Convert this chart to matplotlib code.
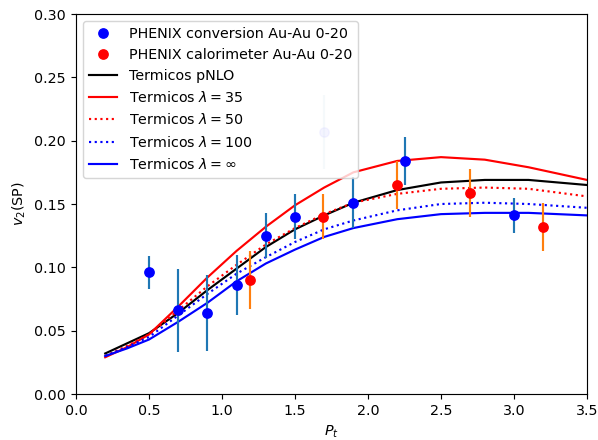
import matplotlib
matplotlib.use("Agg")
import matplotlib.pyplot as plt

# PHENIX direct photon v2, Au-Au 0-20%
conv_pt = [0.5, 0.7, 0.9, 1.1, 1.3, 1.5, 1.7, 1.9, 2.25, 3.0]
conv_v2 = [0.096, 0.066, 0.064, 0.086, 0.125, 0.140, 0.207, 0.151, 0.184, 0.141]
conv_err = [0.013, 0.033, 0.030, 0.024, 0.018, 0.018, 0.029, 0.020, 0.019, 0.014]
conv_faded = [False, False, False, False, False, False, True, False, False, False]

calo_pt = [1.19, 1.69, 2.2, 2.7, 3.2]
calo_v2 = [0.090, 0.140, 0.165, 0.159, 0.132]
calo_err = [0.023, 0.018, 0.019, 0.019, 0.019]

# Thermal photon model curves
pt_grid = [0.2, 0.35, 0.5, 0.7, 0.9, 1.1, 1.3, 1.5, 1.7, 1.9, 2.2, 2.5, 2.8, 3.1, 3.5]
v2_pnlo = [0.032, 0.040, 0.048, 0.064, 0.082, 0.099, 0.116, 0.130, 0.141, 0.151, 0.161, 0.167, 0.169, 0.169, 0.165]
v2_l35 = [0.029, 0.037, 0.047, 0.069, 0.092, 0.113, 0.132, 0.149, 0.163, 0.175, 0.184, 0.187, 0.185, 0.179, 0.169]
v2_l50 = [0.030, 0.038, 0.047, 0.066, 0.085, 0.102, 0.118, 0.131, 0.142, 0.151, 0.158, 0.162, 0.163, 0.162, 0.156]
v2_l100 = [0.030, 0.037, 0.045, 0.062, 0.079, 0.095, 0.108, 0.120, 0.130, 0.137, 0.145, 0.150, 0.151, 0.150, 0.147]
v2_linf = [0.030, 0.036, 0.043, 0.057, 0.072, 0.089, 0.103, 0.114, 0.124, 0.131, 0.138, 0.142, 0.143, 0.143, 0.141]

dpi = 103
fig = plt.figure(figsize=(598 / dpi, 440 / dpi), dpi=dpi)
ax = fig.add_axes([76 / 598, 46 / 440, 511 / 598, 380 / 440])

# data points
keep = [i for i, f in enumerate(conv_faded) if not f]
fade = [i for i, f in enumerate(conv_faded) if f]
ax.plot([conv_pt[i] for i in keep], [conv_v2[i] for i in keep], 'o', color='blue',
        markersize=6.5, zorder=4, label='PHENIX conversion Au-Au 0-20')
ax.plot(calo_pt, calo_v2, 'o', color='red', markersize=6.5, zorder=4,
        label='PHENIX calorimeter Au-Au 0-20')
ax.plot([conv_pt[i] for i in fade], [conv_v2[i] for i in fade], 'o', color='blue',
        alpha=0.2, markersize=6.5, zorder=4)

ax.errorbar([conv_pt[i] for i in keep], [conv_v2[i] for i in keep],
            yerr=[conv_err[i] for i in keep], fmt='none', ecolor='C0',
            elinewidth=1.5, zorder=3, label='_nolegend_')
ax.errorbar([conv_pt[i] for i in fade], [conv_v2[i] for i in fade],
            yerr=[conv_err[i] for i in fade], fmt='none', ecolor='C0', alpha=0.2,
            elinewidth=1.5, zorder=3, label='_nolegend_')
ax.errorbar(calo_pt, calo_v2, yerr=calo_err, fmt='none', ecolor='C1',
            elinewidth=1.5, zorder=3, label='_nolegend_')

# model curves
ax.plot(pt_grid, v2_pnlo, '-', color='black', lw=1.5, label='Termicos pNLO')
ax.plot(pt_grid, v2_l35, '-', color='red', lw=1.5, label=r'Termicos $\lambda=35$')
ax.plot(pt_grid, v2_l50, ':', color='red', lw=1.5, label=r'Termicos $\lambda=50$')
ax.plot(pt_grid, v2_l100, ':', color='blue', lw=1.5, label=r'Termicos $\lambda=100$')
ax.plot(pt_grid, v2_linf, '-', color='blue', lw=1.5, label=r'Termicos $\lambda=\infty$')

ax.set_xlim(0, 3.5)
ax.set_ylim(0, 0.30)
ax.set_xticks([0.0, 0.5, 1.0, 1.5, 2.0, 2.5, 3.0, 3.5])
ax.set_yticks([0.00, 0.05, 0.10, 0.15, 0.20, 0.25, 0.30])
ax.set_xlabel(r'$P_t$')
ax.set_ylabel(r'$v_2$(SP)')
ax.legend(loc='upper left')

fig.savefig('out.png', dpi=dpi)
